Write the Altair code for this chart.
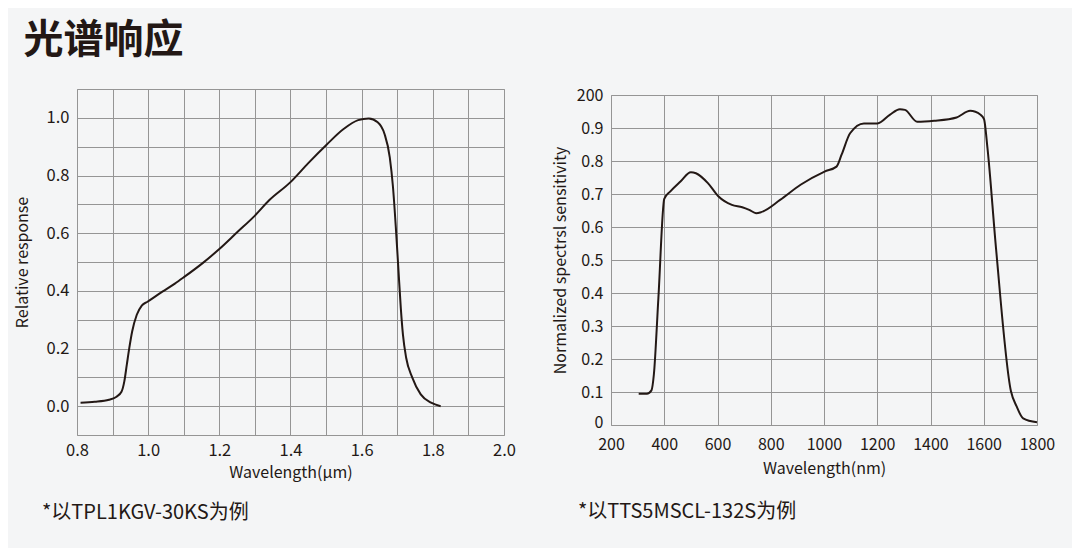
import altair as alt
import pandas as pd

# ---- data ----
left_wl = [0.81, 0.85, 0.89, 0.91, 0.925, 0.933, 0.94, 0.947, 0.955, 0.968, 0.982, 0.998,
           1.04, 1.075, 1.10, 1.154, 1.20, 1.25, 1.30, 1.34, 1.40, 1.45, 1.50, 1.55, 1.59,
           1.62, 1.645, 1.664, 1.679, 1.688, 1.696, 1.703, 1.71, 1.716, 1.725, 1.742, 1.766,
           1.795, 1.822]
left_resp = [0.012, 0.015, 0.022, 0.032, 0.05, 0.086, 0.144, 0.202, 0.259, 0.317, 0.349, 0.362,
             0.397, 0.425, 0.447, 0.497, 0.545, 0.603, 0.661, 0.714, 0.777, 0.843, 0.905, 0.962,
             0.992, 0.998, 0.985, 0.945, 0.863, 0.76, 0.62, 0.48, 0.34, 0.248, 0.168, 0.10,
             0.041, 0.012, 0.0]

right_wl = [304, 335, 352, 361, 378, 400, 423, 461, 500, 519, 564, 603, 654, 693, 719, 745,
            764, 835, 912, 1002, 1047, 1066, 1098, 1150, 1201, 1247, 1285, 1304, 1350, 1414,
            1498, 1549, 1588, 1601, 1614, 1646, 1702, 1723, 1748, 1800]
right_sens = [0.095, 0.095, 0.105, 0.153, 0.385, 0.685, 0.708, 0.738, 0.766, 0.763, 0.733,
              0.693, 0.667, 0.66, 0.652, 0.642, 0.645, 0.682, 0.728, 0.768, 0.783, 0.819,
              0.884, 0.914, 0.914, 0.94, 0.957, 0.955, 0.919, 0.922, 0.932, 0.952, 0.94,
              0.927, 0.839, 0.536, 0.103, 0.057, 0.02, 0.008]

left_x_ticks = [0.8, 0.9, 1.0, 1.1, 1.2, 1.3, 1.4, 1.5, 1.6, 1.7, 1.8, 1.9, 2.0]
left_y_ticks = [-0.1, 0.0, 0.1, 0.2, 0.3, 0.4, 0.5, 0.6, 0.7, 0.8, 0.9, 1.0, 1.1]
right_x_ticks = [200, 400, 600, 800, 1000, 1200, 1400, 1600, 1800]
right_y_ticks = [0.0, 0.1, 0.2, 0.3, 0.4, 0.5, 0.6, 0.7, 0.8, 0.9, 1.0]

title_text = "光谱响应"
left_note = "*以TPL1KGV-30KS为例"
right_note = "*以TTS5MSCL-132S为例"

FONT = "Noto Sans CJK SC"
INK = "#231815"
GRID = "#959595"

left_df = pd.DataFrame({"wl": left_wl, "resp": left_resp})
right_df = pd.DataFrame({"wl": right_wl, "sens": right_sens})

axis_common = dict(grid=True, gridColor=GRID, gridWidth=1, ticks=False, domain=False,
                   labelFont=FONT, labelFontSize=16.5, labelColor=INK, labelFlush=False,
                   labelOverlap=False,
                   titleFont=FONT, titleFontSize=16, titleColor=INK, titleFontWeight="normal")

right_axis = dict(axis_common, labelFontSize=16)

left = alt.Chart(left_df).mark_line(color=INK, strokeWidth=2, interpolate="monotone").encode(
    x=alt.X("wl:Q", scale=alt.Scale(domain=[0.8, 2.0], nice=False),
            axis=alt.Axis(values=left_x_ticks, title="Wavelength(μm)",
                          labelExpr="round(datum.value*10) % 2 == 0 ? format(datum.value, '.1f') : ''",
                          labelPadding=7, titlePadding=6, **axis_common)),
    y=alt.Y("resp:Q", scale=alt.Scale(domain=[-0.1, 1.1], nice=False, zero=False),
            axis=alt.Axis(values=left_y_ticks, title="Relative response",
                          labelExpr="round(datum.value*10) % 2 == 0 ? format(datum.value, '.1f') : ''",
                          labelPadding=8, titlePadding=16, **axis_common)),
).properties(
    width=427, height=346,
    title=alt.TitleParams(left_note, orient="bottom", anchor="start", frame="group",
                          dx=-35, offset=22, font=FONT, fontSize=20, fontWeight="normal", color=INK),
)

right = alt.Chart(right_df).mark_line(color=INK, strokeWidth=2, interpolate="monotone").encode(
    x=alt.X("wl:Q", scale=alt.Scale(domain=[200, 1800], nice=False),
            axis=alt.Axis(values=right_x_ticks, title="Wavelength(nm)", format="d",
                          labelPadding=11, titlePadding=8, **right_axis)),
    y=alt.Y("sens:Q", scale=alt.Scale(domain=[0, 1], nice=False),
            axis=alt.Axis(values=right_y_ticks, title="Normalized spectrsl sensitivity",
                          labelExpr="datum.value > 0.95 ? '200' : (datum.value < 0.05 ? '0' : format(datum.value, '.1f'))",
                          labelOffset={"condition": {"test": "datum.value < 0.05", "value": -3}, "value": 0},
                          labelPadding=8, titlePadding=8, **right_axis)),
).properties(
    width=426, height=330,
    title=alt.TitleParams(right_note, orient="bottom", anchor="start", frame="group",
                          dx=-33, offset=26, font=FONT, fontSize=20, fontWeight="normal", color=INK),
)

spacer_df = pd.DataFrame({"a": [0]})
spacer = alt.Chart(spacer_df).mark_point(opacity=0, size=1).encode(
    x=alt.X("a:Q", axis=None), y=alt.Y("a:Q", axis=None)
).properties(width=426, height=1, view=alt.ViewBackground(strokeOpacity=0))

right_col = alt.vconcat(spacer, right, spacing=5, bounds="flush")

chart = alt.hconcat(left, right_col, spacing=107, bounds="flush").properties(
    title=alt.TitleParams(title_text, anchor="start", font=FONT, fontSize=40, fontWeight="bold",
                          color=INK, dx=10, offset=20),
    padding={"left": 5, "top": 12, "right": 16, "bottom": 25},
    background="#f4f5f6",
).configure_view(stroke="#a8a8a8", strokeWidth=1)

chart.save("out.html", embed_options={"renderer": "svg", "actions": False})
